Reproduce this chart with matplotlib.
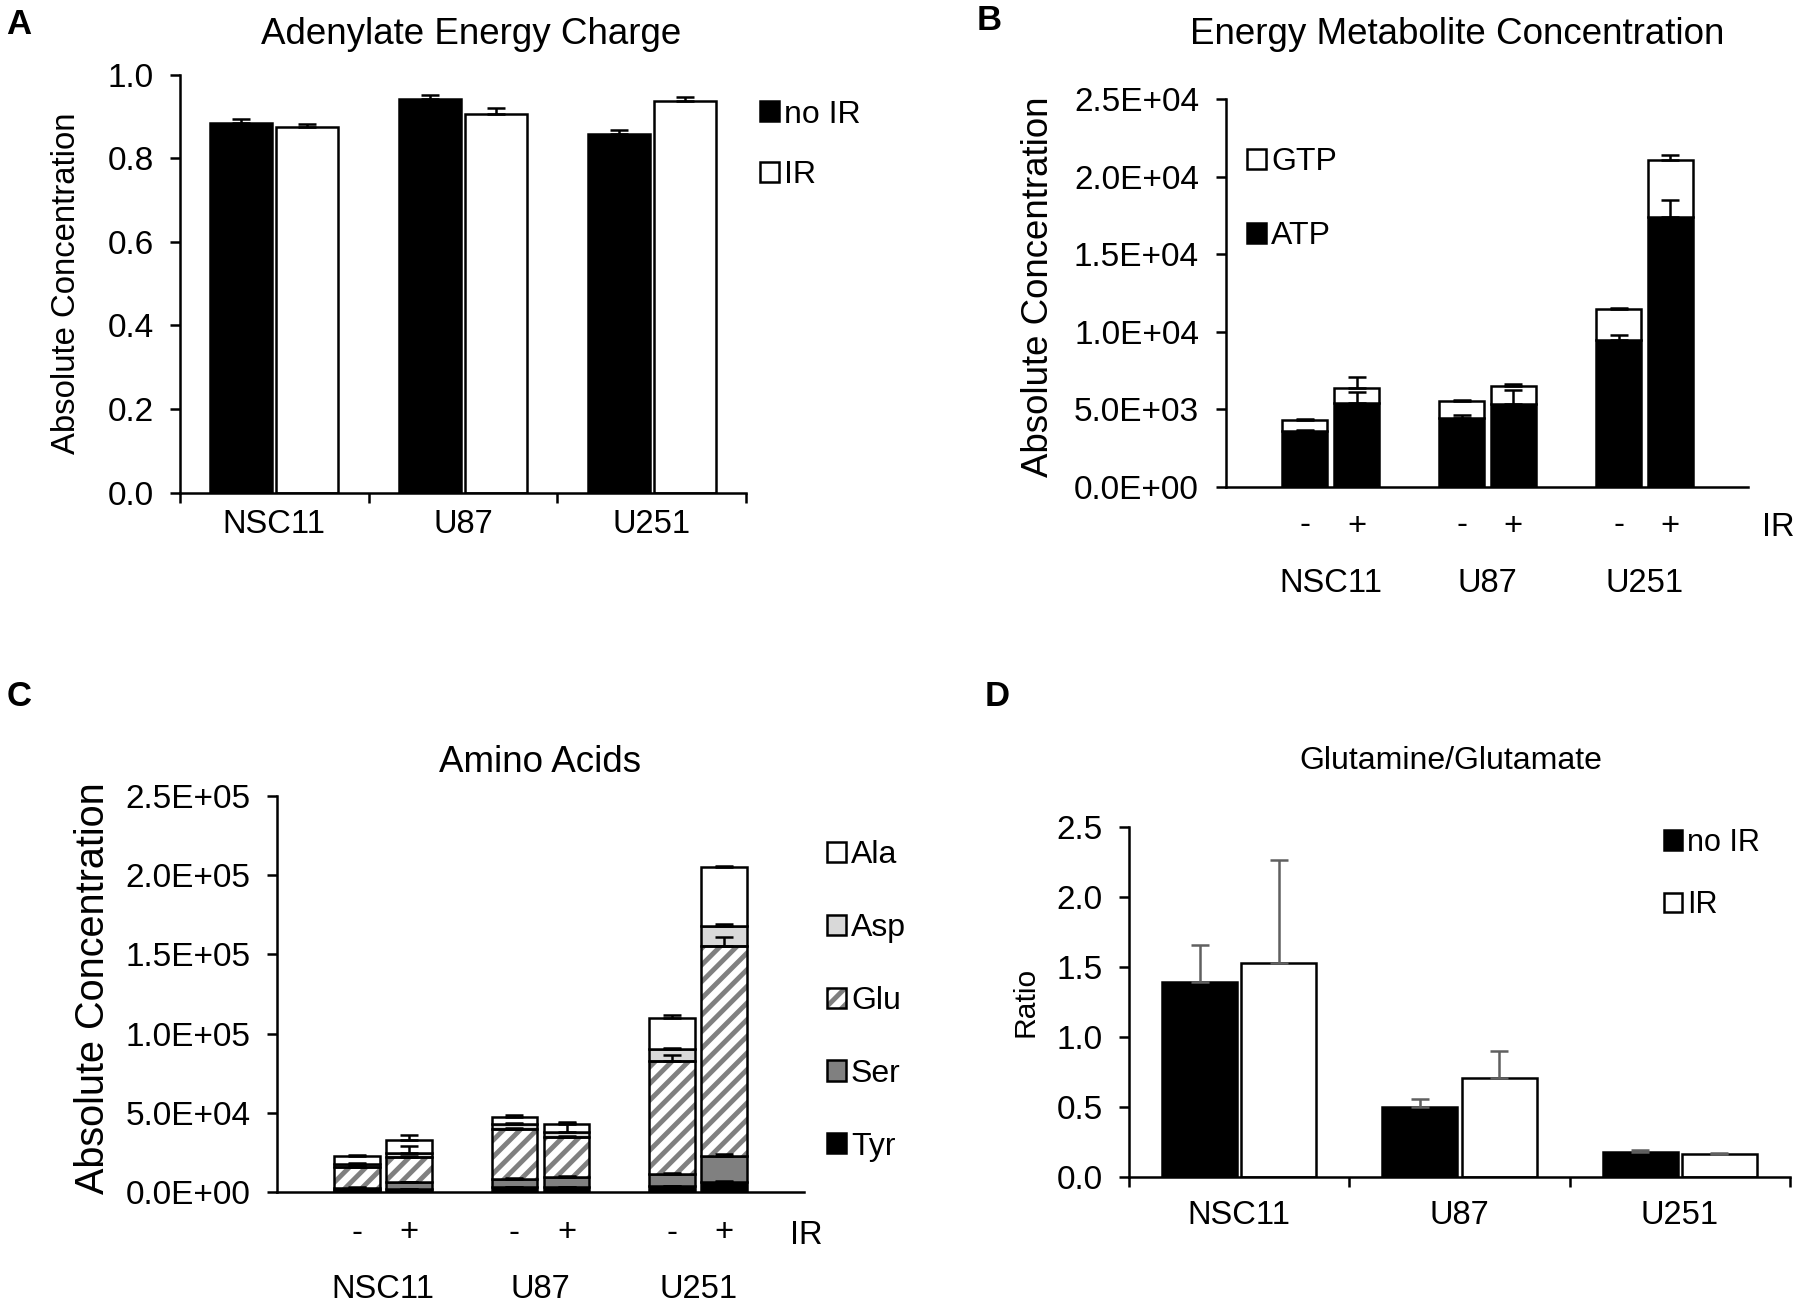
import numpy as np
import matplotlib
matplotlib.use("Agg")
import matplotlib.pyplot as plt
from matplotlib.patches import Patch
from matplotlib.legend_handler import HandlerTuple
import matplotlib.transforms as mtransforms

plt.rcParams['font.family'] = ['Liberation Sans', 'DejaVu Sans']
plt.rcParams['hatch.linewidth'] = 3.5

# ---------------- data ----------------
cells = ["NSC11", "U87", "U251"]
ir_labels = ["-", "+"]

# Panel A: adenylate energy charge
aec_noir = [0.885, 0.941, 0.858]
aec_noir_err = [0.009, 0.009, 0.010]
aec_ir = [0.875, 0.906, 0.938]
aec_ir_err = [0.007, 0.015, 0.008]

# Panel B: energy metabolites (order: NSC11-, NSC11+, U87-, U87+, U251-, U251+)
atp = [3620, 5420, 4470, 5320, 9450, 17400]
atp_err = [60, 700, 200, 900, 360, 1100]
gtp = [720, 980, 1050, 1190, 2000, 3650]
gtp_err = [60, 690, 60, 150, 60, 350]
b_ticks = [0, 5000, 10000, 15000, 20000, 25000]

# Panel C: amino acids (same bar order)
tyr = [1300, 1800, 3000, 3000, 3500, 6300]
tyr_err = [300, 300, 300, 300, 400, 600]
ser = [1500, 4200, 5500, 6500, 7700, 16700]
ser_err = [200, 300, 400, 400, 500, 800]
glu = [13200, 16000, 31200, 25500, 71300, 132200]
glu_err = [300, 500, 500, 500, 3800, 5900]
asp = [1500, 2700, 3000, 2600, 8000, 12800]
asp_err = [700, 4600, 1000, 6000, 500, 1500]
ala = [5300, 8300, 4900, 5600, 19300, 37000]
ala_err = [500, 2700, 800, 1200, 1700, 1000]
c_ticks = [0, 50000, 100000, 150000, 200000, 250000]

# Panel D: glutamine/glutamate ratio
gg_noir = [1.39, 0.503, 0.178]
gg_noir_err = [0.27, 0.055, 0.014]
gg_ir = [1.527, 0.709, 0.164]
gg_ir_err = [0.736, 0.19, 0.007]

# ---------------- figure ----------------
W, H = 1800, 1306
fig = plt.figure(figsize=(W / 100, H / 100), dpi=100)


def rect(l, r, t, b):
    return [l / W, 1 - b / H, (r - l) / W, (b - t) / H]


def fx(x):
    return x / W


def fy(y):
    return 1 - y / H


LW = 1.8
TICK_FS = 24
CAT_FS = 23.5
LEG_FS = 23


def style_axes(ax):
    for s in ["top", "right"]:
        ax.spines[s].set_visible(False)
    for s in ["left", "bottom"]:
        ax.spines[s].set_linewidth(LW)
    ax.tick_params(axis='y', direction='out', length=7, width=LW,
                   labelsize=TICK_FS, pad=12)


err_kw = dict(fmt='none', ecolor='black', elinewidth=LW, capsize=6.5,
              capthick=LW, zorder=5)
leg_kw = dict(loc='center left', bbox_transform=fig.transFigure, frameon=False,
              borderpad=0, borderaxespad=0, handlelength=0.6, handleheight=0.6,
              handletextpad=0.15)

# ---------- Panel A ----------
axA = fig.add_axes(rect(180, 746, 74.6, 492.5))
style_axes(axA)
x = np.arange(len(cells))
wA, oA = 0.33, 0.175
axA.bar(x - oA, aec_noir, wA, color='black', edgecolor='black', linewidth=LW, zorder=2)
axA.bar(x + oA, aec_ir, wA, color='white', edgecolor='black', linewidth=LW, zorder=2)
axA.errorbar(x - oA, aec_noir, yerr=[np.zeros(3), aec_noir_err], **err_kw)
axA.errorbar(x + oA, aec_ir, yerr=[np.zeros(3), aec_ir_err], **err_kw)
axA.set_xlim(-0.5, 2.5)
axA.set_ylim(0, 1.0)
axA.set_yticks(np.arange(0, 1.01, 0.2))
axA.set_yticklabels([f"{v:.1f}" for v in np.arange(0, 1.01, 0.2)])
axA.set_xticks([-0.5, 0.5, 1.5, 2.5])
axA.set_xticklabels([])
axA.tick_params(axis='x', direction='out', length=7, width=LW)
trA = mtransforms.blended_transform_factory(axA.transData, fig.transFigure)
for i, c in enumerate(cells):
    axA.text(i, fy(525), c, transform=trA, ha='center', va='center', fontsize=CAT_FS)
axA.legend(handles=[Patch(facecolor='black', edgecolor='black', linewidth=LW),
                    Patch(facecolor='white', edgecolor='black', linewidth=LW)],
           labels=["no IR", "IR"], bbox_to_anchor=(fx(760), fy(145)),
           labelspacing=0.97, fontsize=LEG_FS, **leg_kw)

# ---------- Panel B ----------
axB = fig.add_axes(rect(1225.5, 1748, 99, 487))
style_axes(axB)
oB, wB = 0.165, 0.29
posB = np.array([i + s * oB for i in range(3) for s in (-1, 1)])
atp_a = np.array(atp, float)
gtp_a = np.array(gtp, float)
axB.bar(posB, atp_a, wB, color='black', edgecolor='black', linewidth=LW, zorder=2)
axB.bar(posB, gtp_a, wB, bottom=atp_a, color='white', edgecolor='black', linewidth=LW, zorder=2)
axB.errorbar(posB, atp_a, yerr=[np.zeros(6), atp_err], **err_kw)
axB.errorbar(posB, atp_a + gtp_a, yerr=[np.zeros(6), gtp_err], **err_kw)
axB.set_xlim(-0.67, 2.66)
axB.set_ylim(0, 25000)
axB.set_yticks(b_ticks)
axB.set_yticklabels([f"{v:.1E}" for v in b_ticks])
axB.set_xticks([])
trB = mtransforms.blended_transform_factory(axB.transData, fig.transFigure)
for j, p in enumerate(posB):
    axB.text(p, fy(526), ir_labels[j % 2], transform=trB, ha='center', va='center', fontsize=CAT_FS)
for i, c in enumerate(cells):
    axB.text(i, fy(583), c, transform=trB, ha='center', va='center', fontsize=CAT_FS)
fig.text(fx(1778), fy(527), "IR", ha='center', va='center', fontsize=CAT_FS)
axB.legend(handles=[Patch(facecolor='white', edgecolor='black', linewidth=LW),
                    Patch(facecolor='black', edgecolor='black', linewidth=LW)],
           labels=["GTP", "ATP"], bbox_to_anchor=(fx(1247), fy(199)),
           labelspacing=1.38, fontsize=LEG_FS, **leg_kw)

# ---------- Panel C ----------
axC = fig.add_axes(rect(277, 804, 796, 1192))
style_axes(axC)
posC = posB
segs = [("Tyr", tyr, tyr_err, 'black', None),
        ("Ser", ser, ser_err, '#808080', None),
        ("Glu", glu, glu_err, 'white', '//'),
        ("Asp", asp, asp_err, '#d9d9d9', None),
        ("Ala", ala, ala_err, 'white', None)]
bottom = np.zeros(6)
tops = []
for name, vals, errs, col, hatch in segs:
    v = np.array(vals, float)
    if hatch:
        axC.bar(posC, v, wB, bottom=bottom, color='white', edgecolor='#808080',
                hatch=hatch, linewidth=0, zorder=2)
        axC.bar(posC, v, wB, bottom=bottom, facecolor='none', edgecolor='black',
                linewidth=LW, zorder=3)
    else:
        axC.bar(posC, v, wB, bottom=bottom, color=col, edgecolor='black',
                linewidth=LW, zorder=2)
    bottom = bottom + v
    tops.append((bottom.copy(), errs))
for top, errs in tops:
    axC.errorbar(posC, top, yerr=[np.zeros(6), errs], **err_kw)
axC.set_xlim(-0.67, 2.67)
axC.set_ylim(0, 250000)
axC.set_yticks(c_ticks)
axC.set_yticklabels([f"{v:.1E}" for v in c_ticks])
axC.set_xticks([])
trC = mtransforms.blended_transform_factory(axC.transData, fig.transFigure)
for j, p in enumerate(posC):
    axC.text(p, fy(1233), ir_labels[j % 2], transform=trC, ha='center', va='center', fontsize=CAT_FS)
for i, c in enumerate(cells):
    axC.text(i, fy(1289), c, transform=trC, ha='center', va='center', fontsize=CAT_FS)
fig.text(fx(806), fy(1235), "IR", ha='center', va='center', fontsize=CAT_FS)
glu_handle = (Patch(facecolor='white', edgecolor='#808080', hatch='//', linewidth=0),
              Patch(facecolor='none', edgecolor='black', linewidth=LW))
axC.legend(handles=[Patch(facecolor='white', edgecolor='black', linewidth=LW),
                    Patch(facecolor='#d9d9d9', edgecolor='black', linewidth=LW),
                    glu_handle,
                    Patch(facecolor='#808080', edgecolor='black', linewidth=LW),
                    Patch(facecolor='black', edgecolor='black', linewidth=LW)],
           labels=["Ala", "Asp", "Glu", "Ser", "Tyr"], bbox_to_anchor=(fx(827), fy(1001)),
           labelspacing=1.34, fontsize=LEG_FS,
           handler_map={tuple: HandlerTuple(ndivide=1, pad=0)}, **leg_kw)

# ---------- Panel D ----------
axD = fig.add_axes(rect(1129, 1790, 827, 1177))
style_axes(axD)
wD, oD = 0.34, 0.18
axD.bar(x - oD, gg_noir, wD, color='black', edgecolor='black', linewidth=LW, zorder=2)
axD.bar(x + oD, gg_ir, wD, color='white', edgecolor='black', linewidth=LW, zorder=2)
errD = dict(err_kw)
errD['ecolor'] = '#606060'
axD.errorbar(x - oD, gg_noir, yerr=[np.zeros(3), gg_noir_err], **errD)
axD.errorbar(x + oD, gg_ir, yerr=[np.zeros(3), gg_ir_err], **errD)
axD.set_xlim(-0.5, 2.5)
axD.set_ylim(0, 2.5)
axD.set_yticks(np.arange(0, 2.51, 0.5))
axD.set_yticklabels([f"{v:.1f}" for v in np.arange(0, 2.51, 0.5)])
axD.set_xticks([-0.5, 0.5, 1.5, 2.5])
axD.set_xticklabels([])
axD.tick_params(axis='x', direction='out', length=7, width=LW)
trD = mtransforms.blended_transform_factory(axD.transData, fig.transFigure)
for i, c in enumerate(cells):
    axD.text(i, fy(1215), c, transform=trD, ha='center', va='center', fontsize=CAT_FS)
axD.legend(handles=[Patch(facecolor='black', edgecolor='black', linewidth=LW),
                    Patch(facecolor='white', edgecolor='black', linewidth=LW)],
           labels=["no IR", "IR"], bbox_to_anchor=(fx(1664), fy(874)),
           labelspacing=1.06, fontsize=22, **leg_kw)

# ---------- titles, axis labels, panel letters ----------
fig.text(fx(471), fy(35), "Adenylate Energy Charge", ha='center', va='center', fontsize=26.5)
fig.text(fx(1457), fy(35), "Energy Metabolite Concentration", ha='center', va='center', fontsize=26.5)
fig.text(fx(540), fy(762), "Amino Acids", ha='center', va='center', fontsize=26.5)
fig.text(fx(1451), fy(761), "Glutamine/Glutamate", ha='center', va='center', fontsize=23)

fig.text(fx(67), fy(283), "Absolute Concentration", rotation=90, ha='center', va='center', fontsize=23.7)
fig.text(fx(1038), fy(287), "Absolute Concentration", rotation=90, ha='center', va='center', fontsize=26.4)
fig.text(fx(93), fy(988), "Absolute Concentration", rotation=90, ha='center', va='center', fontsize=28.5)
fig.text(fx(1025), fy(1002), "Ratio", rotation=90, ha='center', va='center', fontsize=21.6)

for lab, (px, py) in zip("ABCD", [(19, 24), (989, 21), (19, 696), (997, 697)]):
    fig.text(fx(px), fy(py), lab, ha='center', va='center', fontsize=25, fontweight='bold')

fig.savefig("out.png", dpi=100)
